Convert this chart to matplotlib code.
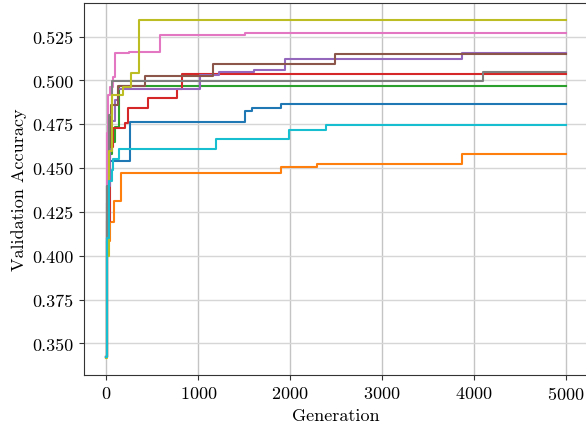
import matplotlib
matplotlib.use("Agg")
import matplotlib.pyplot as plt
import numpy as np

plt.rcParams["font.family"] = "serif"
plt.rcParams["font.serif"] = ["cmr10"]
plt.rcParams["mathtext.fontset"] = "cm"
plt.rcParams["axes.formatter.use_mathtext"] = True
plt.rcParams["font.size"] = 13

last_gen = 5000

# generations where the best validation accuracy improved, one list per run
gens = [
    [0, 8, 20, 30, 256, 1510, 1582, 1898],                      # blue
    [0, 5, 9, 38, 82, 155, 1901, 2297, 3876],                   # orange
    [0, 8, 30, 63, 93, 139],                                    # green
    [0, 8, 40, 74, 200, 238, 455, 765, 822],                    # red
    [0, 8, 40, 95, 130, 1018, 1229, 1607, 1945, 3870],          # purple
    [0, 8, 20, 50, 129, 420, 1163, 2490],                       # brown
    [0, 8, 20, 40, 68, 93, 249, 583, 1510],                     # pink
    [0, 8, 25, 57, 4098],                                       # gray
    [0, 8, 30, 63, 176, 267, 358],                              # olive
    [0, 5, 25, 55, 74, 136, 1190, 1992, 2386],                  # cyan
]
accs = [
    [0.342, 0.410, 0.450, 0.454, 0.4764, 0.4824, 0.4844, 0.4863],
    [0.342, 0.389, 0.4086, 0.4192, 0.4313, 0.447, 0.4509, 0.4526, 0.4582],
    [0.342, 0.440, 0.458, 0.465, 0.4736, 0.4968],
    [0.342, 0.420, 0.462, 0.4726, 0.4755, 0.484, 0.4897, 0.4953, 0.5038],
    [0.342, 0.440, 0.4768, 0.489, 0.4953, 0.5029, 0.5048, 0.5057, 0.5124, 0.5156],
    [0.342, 0.430, 0.462, 0.4859, 0.4967, 0.5026, 0.5091, 0.5152],
    [0.342, 0.470, 0.4915, 0.4963, 0.502, 0.5156, 0.5165, 0.526, 0.5268],
    [0.342, 0.440, 0.480, 0.4995, 0.505],
    [0.3416, 0.400, 0.460, 0.4919, 0.4963, 0.5045, 0.5347],
    [0.342, 0.410, 0.4427, 0.449, 0.4552, 0.4609, 0.4665, 0.4719, 0.4745],
]

fig = plt.figure(figsize=(5.86, 4.31), dpi=100)
ax = fig.add_axes([83.5 / 586, 55 / 431, 505 / 586, 372.3 / 431])

for g, a in zip(gens, accs):
    ax.plot(g + [last_gen], a + [a[-1]], drawstyle="steps-post", lw=1.5)

ax.set_xlabel("Generation")
ax.set_ylabel("Validation Accuracy")
ax.set_xticks([0, 1000, 2000, 3000, 4000, 5000])
ax.set_yticks(np.arange(0.35, 0.526, 0.025))
ax.yaxis.set_major_formatter(matplotlib.ticker.FormatStrFormatter("%.3f"))
ax.xaxis.grid(True, color="#c4c4c4", lw=1.0)
ax.yaxis.grid(True, color="#d6d6d6", lw=1.0)
ax.set_axisbelow(True)
for s in ax.spines.values():
    s.set_color("#333333")
ax.tick_params(colors="#333333", labelcolor="black")

fig.savefig("out.png", dpi=100)
